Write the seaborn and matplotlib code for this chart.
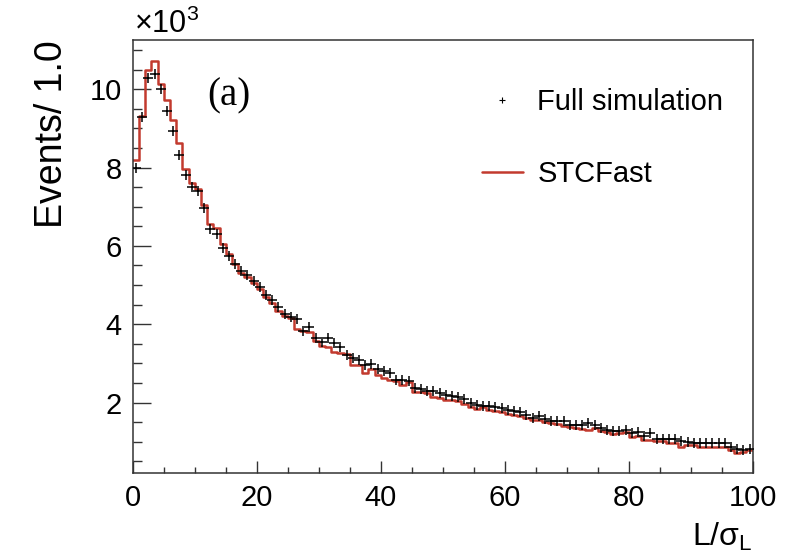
import numpy as np
import pandas as pd
import matplotlib
matplotlib.use("Agg")
import matplotlib.pyplot as plt
import seaborn as sns
from matplotlib.lines import Line2D

# bins of L/sigma_L, width 1.0, from 0 to 100
bin_centers = np.arange(0, 100) + 0.5

# events per bin, in units of 10^3
full_sim = [
    8.00, 9.30, 10.28, 10.38, 10.00, 9.44, 8.92, 8.31, 7.80, 7.51,
    7.40, 6.97, 6.44, 6.31, 5.95, 5.74, 5.53, 5.35, 5.25, 5.11,
    4.95, 4.75, 4.62, 4.44, 4.26, 4.18, 4.13, 3.84, 3.92, 3.65,
    3.56, 3.65, 3.52, 3.42, 3.22, 3.14, 3.08, 2.97, 2.99, 2.87,
    2.80, 2.76, 2.59, 2.57, 2.56, 2.37, 2.36, 2.31, 2.29, 2.25,
    2.20, 2.16, 2.14, 2.09, 1.99, 1.93, 1.91, 1.91, 1.89, 1.86,
    1.82, 1.78, 1.75, 1.69, 1.61, 1.65, 1.57, 1.52, 1.52, 1.52,
    1.44, 1.44, 1.44, 1.48, 1.42, 1.36, 1.31, 1.27, 1.27, 1.31,
    1.23, 1.25, 1.14, 1.23, 1.08, 1.06, 1.06, 1.08, 1.02, 0.99,
    0.97, 0.97, 0.97, 0.97, 0.97, 0.96, 0.87, 0.82, 0.80, 0.82,
]
stc_fast = [
    8.19, 9.32, 10.50, 10.71, 10.12, 9.72, 9.21, 8.62, 7.95, 7.60,
    7.45, 7.05, 6.55, 6.45, 6.05, 5.80, 5.55, 5.30, 5.20, 5.05,
    4.90, 4.70, 4.55, 4.35, 4.20, 4.15, 3.88, 3.82, 3.80, 3.58,
    3.45, 3.42, 3.30, 3.27, 3.25, 2.97, 2.97, 2.76, 2.86, 2.71,
    2.62, 2.59, 2.55, 2.46, 2.52, 2.28, 2.26, 2.24, 2.14, 2.12,
    2.08, 2.06, 2.04, 1.97, 1.90, 1.85, 1.88, 1.80, 1.78, 1.77,
    1.72, 1.68, 1.66, 1.62, 1.55, 1.56, 1.50, 1.47, 1.45, 1.40,
    1.37, 1.36, 1.34, 1.30, 1.35, 1.27, 1.25, 1.20, 1.22, 1.24,
    1.12, 1.16, 1.05, 1.04, 1.02, 1.03, 0.96, 0.96, 0.86, 0.92,
    0.91, 0.88, 0.87, 0.88, 0.87, 0.86, 0.78, 0.72, 0.73, 0.78,
]

df = pd.DataFrame({'x': bin_centers, 'full': full_sim, 'fast': stc_fast})

sns.set_style("ticks")
plt.rcParams['font.family'] = ['Liberation Sans', 'DejaVu Sans']
plt.rcParams['mathtext.default'] = 'regular'
plt.rcParams['text.color'] = 'black'
plt.rcParams['axes.labelcolor'] = 'black'

red = '#c23a2e'
fig = plt.figure(figsize=(8.05, 5.58), dpi=100)
ax = fig.add_axes([0.165, 0.152, 0.770, 0.776])

# STCFast histogram
sns.histplot(data=df, x='x', weights='fast', binwidth=1, binrange=(0, 100),
             element='step', fill=False, color=red, linewidth=1.8, ax=ax)

# Full simulation points
sns.scatterplot(data=df, x='x', y='full', marker='+', s=50, color='black',
                linewidth=1.1, ax=ax, zorder=3)

ax.set_xlim(0, 100)
ax.set_ylim(0.2, 11.25)
ax.set_xticks([0, 20, 40, 60, 80, 100])
ax.set_xticks(np.arange(0, 101, 5), minor=True)
ax.set_yticks([2, 4, 6, 8, 10])
ax.set_yticks(np.arange(0.5, 11.25, 0.5), minor=True)
ax.tick_params(axis='both', which='both', direction='in', labelsize=21,
               color='#333333', labelcolor='black', width=1.0)
ax.tick_params(axis='y', which='major', length=13, pad=8)
ax.tick_params(axis='y', which='minor', length=6.5)
ax.tick_params(axis='x', which='major', length=9, pad=8)
ax.tick_params(axis='x', which='minor', length=4.5)
for s in ax.spines.values():
    s.set_color('#333333')
    s.set_linewidth(1.1)

ax.set_xlabel(r'L/σ$_{L}$', fontsize=23, loc='right', labelpad=6)
ax.set_ylabel('Events/ 1.0', fontsize=27, loc='top', labelpad=14)

fig.text(0.166, 0.928, r'×10$^{3}$', fontsize=22, ha='left', va='bottom')
ax.text(0.12, 0.915, '(a)', transform=ax.transAxes, fontsize=28,
        family=['Liberation Serif', 'DejaVu Serif'], va='top')

handles = [
    Line2D([], [], marker='+', linestyle='none', color='black',
           markersize=5, markeredgewidth=0.8),
    Line2D([], [], color=red, linewidth=1.8),
]
ax.legend(handles, ['Full simulation', 'STCFast'], frameon=False,
          fontsize=21, loc='upper right', bbox_to_anchor=(0.995, 0.95),
          labelspacing=1.5, handlelength=1.4, handletextpad=0.5)

fig.savefig('out.png', dpi=100)
